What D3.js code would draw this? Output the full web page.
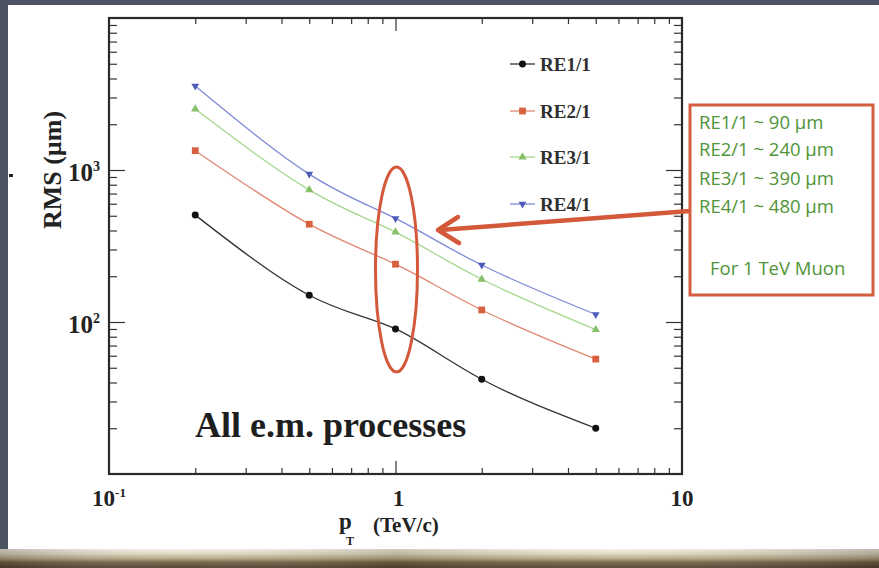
<!DOCTYPE html>
<html>
<head>
<meta charset="utf-8">
<script src="https://cdn.jsdelivr.net/npm/d3@7/dist/d3.min.js"></script>
<style>
  html, body { margin: 0; padding: 0; background: #4c5463; }
  svg { display: block; }
</style>
</head>
<body>
<svg id="chart" width="879" height="568"></svg>
<script>
// Transverse momentum of the muon (TeV/c)
const pt = [0.2, 0.5, 1, 2, 5];

// RMS of the hit residuals (µm) per station
const re11 = [505, 150, 90, 42, 20];
const re21 = [1340, 440, 240, 120, 57];
const re31 = [2520, 740, 390, 191, 89];
const re41 = [3570, 940, 480, 237, 112];

const seriesNames = ["RE1/1", "RE2/1", "RE3/1", "RE4/1"];

// Axis tick values and labels
const xMinorTicks = [0.2, 0.3, 0.4, 0.5, 0.6, 0.7, 0.8, 0.9, 2, 3, 4, 5, 6, 7, 8, 9];
const xMajorTicks = [1];
const yMinorTicks = [20, 30, 40, 50, 60, 70, 80, 90, 200, 300, 400, 500, 600, 700, 800, 900,
                     2000, 3000, 4000, 5000, 6000, 7000, 8000, 9000];
const yMajorTicks = [100, 1000];
const xLabelValues = [0.1, 1, 10];
const xLabelBase = ["10", "1", "10"];
const xLabelExp = ["-1", "", ""];
const yLabelValues = [1000, 100];
const yLabelBase = ["10", "10"];
const yLabelExp = ["3", "2"];

// Summary box lines (values at 1 TeV)
const boxLines = ["RE1/1 ~ 90 µm", "RE2/1 ~ 240 µm", "RE3/1 ~ 390 µm", "RE4/1 ~ 480 µm"];
const boxFooter = "For 1 TeV Muon";

const svg = d3.select("#chart");
const W = 879, H = 568;

// ---- slide background ----
const defs = svg.append("defs");
const ground = defs.append("linearGradient").attr("id", "ground")
  .attr("x1", 0).attr("y1", 0).attr("x2", 0).attr("y2", 1);
[[0, "#f4f1e6"], [0.25, "#ddd6c0"], [0.5, "#b3a684"], [0.7, "#6e6044"], [1, "#4a3f2c"]]
  .forEach(([o, c]) => ground.append("stop").attr("offset", o).attr("stop-color", c));
const groundH = defs.append("linearGradient").attr("id", "groundH")
  .attr("x1", 0).attr("y1", 0).attr("x2", 1).attr("y2", 0);
[[0, "rgba(40,30,20,0.25)"], [0.2, "rgba(255,255,255,0.05)"], [0.45, "rgba(60,50,30,0.2)"],
 [0.7, "rgba(255,255,240,0.08)"], [1, "rgba(40,30,20,0.25)"]]
  .forEach(([o, c]) => groundH.append("stop").attr("offset", o).attr("stop-color", c));

svg.append("rect").attr("width", W).attr("height", H).attr("fill", "#4c5463");
svg.append("rect").attr("x", 8).attr("y", 5).attr("width", W - 8).attr("height", 546).attr("fill", "#ffffff");
svg.append("rect").attr("x", 0).attr("y", 549).attr("width", W).attr("height", 19).attr("fill", "url(#ground)");
svg.append("rect").attr("x", 0).attr("y", 549).attr("width", W).attr("height", 19).attr("fill", "url(#groundH)");
svg.append("rect").attr("x", 9).attr("y", 174).attr("width", 4).attr("height", 3).attr("fill", "#222");

// ---- plot area ----
const x = d3.scaleLog().domain([0.1, 10]).range([109, 682]);
const y = d3.scaleLog().domain([10, 10000]).range([474, 18]);
const [x0, x1] = x.range();
const [y0, y1] = y.range();

const serif = "'Liberation Serif', 'Times New Roman', serif";
const majorLen = 15, minorLen = 7;
const allX = xMinorTicks.concat(xMajorTicks);
const allY = yMinorTicks.concat(yMajorTicks);
const isMajorX = d => xMajorTicks.includes(d);
const isMajorY = d => yMajorTicks.includes(d);

function styleAxis(g) {
  g.select(".domain").remove();
  g.selectAll(".tick line").attr("stroke", "#333").attr("stroke-width", 1.2);
}

// bottom and top axes, ticks pointing inwards
svg.append("g").attr("transform", `translate(0,${y0})`)
  .call(d3.axisBottom(x).tickValues(allX).tickSize(0).tickFormat(""))
  .call(styleAxis)
  .selectAll(".tick line").attr("y2", d => -(isMajorX(d) ? majorLen - 2 : minorLen - 1));
svg.append("g").attr("transform", `translate(0,${y1})`)
  .call(d3.axisTop(x).tickValues(allX).tickSize(0).tickFormat(""))
  .call(styleAxis)
  .selectAll(".tick line").attr("y2", d => (isMajorX(d) ? majorLen - 2 : minorLen - 1));

// left and right axes
svg.append("g").attr("transform", `translate(${x0},0)`)
  .call(d3.axisLeft(y).tickValues(allY).tickSize(0).tickFormat(""))
  .call(styleAxis)
  .selectAll(".tick line").attr("x2", d => (isMajorY(d) ? majorLen + 1 : minorLen + 1));
svg.append("g").attr("transform", `translate(${x1},0)`)
  .call(d3.axisRight(y).tickValues(allY).tickSize(0).tickFormat(""))
  .call(styleAxis)
  .selectAll(".tick line").attr("x2", d => -(isMajorY(d) ? majorLen + 1 : minorLen + 1));

// frame
svg.append("rect").attr("x", x0).attr("y", y1).attr("width", x1 - x0).attr("height", y0 - y1)
  .attr("fill", "none").attr("stroke", "#2a2a2a").attr("stroke-width", 2.2);

// x tick labels
xLabelValues.forEach((v, i) => {
  const t = svg.append("text").attr("x", x(v) + (i === 1 ? 3 : 0)).attr("y", 506)
    .attr("text-anchor", "middle").attr("font-family", serif).attr("font-weight", "bold")
    .attr("font-size", 23).attr("fill", "#222");
  t.append("tspan").text(xLabelBase[i]);
  if (xLabelExp[i]) t.append("tspan").attr("dy", -9).attr("font-size", 13).text(xLabelExp[i]);
});

// y tick labels
yLabelValues.forEach((v, i) => {
  const t = svg.append("text").attr("x", 100).attr("y", y(v) + 11)
    .attr("text-anchor", "end").attr("font-family", serif).attr("font-weight", "bold")
    .attr("font-size", 25).attr("fill", "#222");
  t.append("tspan").text(yLabelBase[i]);
  t.append("tspan").attr("dy", -10).attr("font-size", 14).text(yLabelExp[i]);
});

// axis titles
svg.append("text").attr("transform", "translate(61,170) rotate(-90)")
  .attr("text-anchor", "middle").attr("font-family", serif).attr("font-weight", "bold")
  .attr("font-size", 26).attr("fill", "#222").text("RMS (µm)");
svg.append("text").attr("x", 339).attr("y", 529).attr("font-family", serif).attr("font-weight", "bold")
  .attr("font-size", 23).attr("fill", "#222").text("p");
svg.append("text").attr("x", 346).attr("y", 545).attr("font-family", serif).attr("font-weight", "bold")
  .attr("font-size", 12).attr("fill", "#222").text("T");
svg.append("text").attr("x", 373).attr("y", 532).attr("font-family", serif).attr("font-weight", "bold")
  .attr("font-size", 21).attr("fill", "#222").text("(TeV/c)");

// process label
svg.append("text").attr("x", 195).attr("y", 437).attr("font-family", serif).attr("font-weight", "bold")
  .attr("font-size", 36).attr("fill", "#1e1e1e").text("All e.m. processes");

// ---- series ----
const series = [
  { name: seriesNames[0], values: re11, line: "#333333", fill: "#111111", symbol: d3.symbolCircle, size: 38, rot: 0 },
  { name: seriesNames[1], values: re21, line: "#e08872", fill: "#d8603f", symbol: d3.symbolSquare, size: 46, rot: 0 },
  { name: seriesNames[2], values: re31, line: "#a6d68c", fill: "#86c06a", symbol: d3.symbolTriangle, size: 30, rot: 0 },
  { name: seriesNames[3], values: re41, line: "#7f8ad6", fill: "#4e5bb8", symbol: d3.symbolTriangle, size: 26, rot: 180 }
];

const lineGen = d3.line().x(d => x(d[0])).y(d => y(d[1])).curve(d3.curveNatural);

series.forEach(s => {
  const pts = pt.map((p, i) => [p, s.values[i]]);
  svg.append("path").datum(pts).attr("d", lineGen)
    .attr("fill", "none").attr("stroke", s.line).attr("stroke-width", 1.3);
  svg.append("g").selectAll("path").data(pts).join("path")
    .attr("transform", d => `translate(${x(d[0])},${y(d[1])}) rotate(${s.rot})`)
    .attr("d", d3.symbol().type(s.symbol).size(s.size))
    .attr("fill", s.fill);
});

// legend
const legendY = [64, 111, 157, 204];
series.forEach((s, i) => {
  const ly = legendY[i];
  svg.append("line").attr("x1", 510).attr("x2", 535).attr("y1", ly).attr("y2", ly)
    .attr("stroke", s.line).attr("stroke-width", 1.3);
  svg.append("path").attr("transform", `translate(522.5,${ly}) rotate(${s.rot})`)
    .attr("d", d3.symbol().type(s.symbol).size(s.size)).attr("fill", s.fill);
  svg.append("text").attr("x", 540).attr("y", ly + 7).attr("font-family", serif)
    .attr("font-weight", "bold").attr("font-size", 19).attr("fill", "#2e2e2e").text(s.name);
});

// ---- annotation: ellipse around the 1 TeV points, arrow and summary box ----
const accent = "#d4593a";
svg.append("ellipse").attr("cx", x(1) + 1).attr("cy", 269.5).attr("rx", 21).attr("ry", 102.5)
  .attr("fill", "none").attr("stroke", accent).attr("stroke-width", 3);

svg.append("line").attr("x1", 690).attr("y1", 211).attr("x2", 440).attr("y2", 230)
  .attr("stroke", accent).attr("stroke-width", 4.5);
svg.append("path").attr("d", "M458,217 L438,230 L459,243")
  .attr("fill", "none").attr("stroke", accent).attr("stroke-width", 4.5)
  .attr("stroke-linecap", "round").attr("stroke-linejoin", "round");

svg.append("rect").attr("x", 690).attr("y", 105).attr("width", 183).attr("height", 190)
  .attr("fill", "#ffffff").attr("stroke", "#d2603f").attr("stroke-width", 3);

const sans = "'Open Sans', 'DejaVu Sans', sans-serif";
const boxBase = [129, 156, 185, 213];
boxLines.forEach((t, i) => {
  svg.append("text").attr("x", 699).attr("y", boxBase[i]).attr("font-family", sans)
    .attr("font-size", 18.5).attr("fill", "#4f9438").text(t);
});
svg.append("text").attr("x", 710).attr("y", 275).attr("font-family", sans)
  .attr("font-size", 18.5).attr("fill", "#4f9438").text(boxFooter);
</script>
</body>
</html>
